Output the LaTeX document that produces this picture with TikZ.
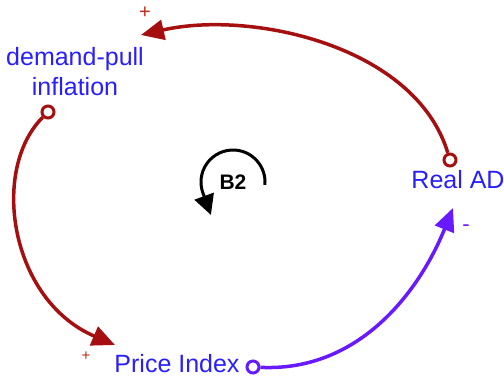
\documentclass[tikz,border=0pt]{standalone}
\usepackage{fontspec}
\setmainfont{Liberation Sans}
\usetikzlibrary{arrows.meta}
\definecolor{lblblue}{RGB}{40,30,255}
\definecolor{linkred}{RGB}{165,15,15}
\definecolor{linkpurple}{RGB}{105,25,255}
\definecolor{signcol}{RGB}{190,40,20}
\begin{document}
\begin{tikzpicture}[x=1pt,y=-1pt,
  lbl/.style={text=lblblue, font=\fontsize{25}{30}\selectfont, inner sep=0pt, align=center},
  tail/.style={circle, draw=#1, fill=white, line width=3pt, minimum size=12pt, inner sep=0pt},
  link/.style={draw=#1, line width=3.5pt, -{Triangle[length=23pt,width=20pt]}},
  sign/.style={text=signcol, font=\fontsize{20}{20}\selectfont, inner sep=0pt}]
\useasboundingbox (0,0) rectangle (504,378);
\node[lbl] (dpi) at (75,72) {demand-pull\\inflation};
\node[lbl] (rad) at (458,180) {Real AD};
\node[lbl] (pix) at (177,364) {Price Index};
\node[tail=linkred] (t1) at (450,160) {};
\node[tail=linkred] (t2) at (48,112) {};
\node[tail=linkpurple] (t3) at (253,367) {};
\coordinate (h1) at (141,35);
\coordinate (h2) at (115,345);
\coordinate (h3) at (453,208);
\draw[link=linkred] (t1) .. controls (415,45) and (250,10) .. (h1);
\draw[link=linkred] (t2) .. controls (-10,170) and (10,300) .. (h2);
\draw[link=linkpurple] (t3) .. controls (360,372) and (420,290) .. (h3);
\node[sign] (s1) at (145,13) {+};
\node[sign, font=\fontsize{15}{15}\selectfont] (s2) at (86,356) {+};
\node[sign, text=linkpurple, font=\fontsize{22}{22}\selectfont] (s3) at (466,228) {-};
\node[font=\fontsize{21}{21}\selectfont\bfseries, text=black] (b2) at (233,182) {B2};
\draw[line width=3pt, -{Triangle[length=20pt,width=20pt]}] (b2.center) ++(5:32) arc (5:-200:32) -- ++(8,22);
\end{tikzpicture}
\end{document}
